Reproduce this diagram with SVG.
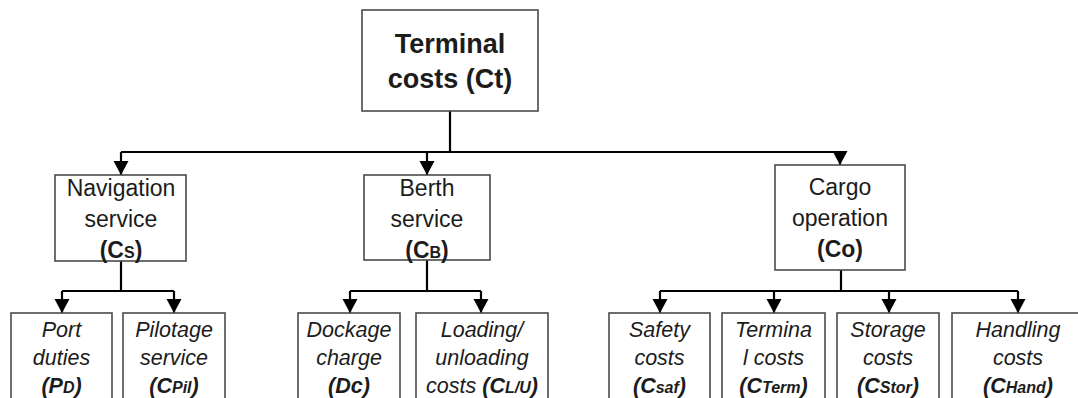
<svg xmlns="http://www.w3.org/2000/svg" width="1078" height="398" viewBox="0 0 1078 398">
  <defs>
    <marker id="arrow" markerUnits="userSpaceOnUse" markerWidth="15" markerHeight="16" refX="14" refY="7.5" orient="auto">
      <path d="M0,0 L14,7.5 L0,15 Z" fill="#000"/>
    </marker>
    <style>
      .box { fill: #fff; stroke: #4a4a4a; stroke-width: 1.6; }
      .wire { fill: none; stroke: #000; stroke-width: 2.2; }
      .drop { fill: none; stroke: #000; stroke-width: 2.2; marker-end: url(#arrow); }
      text { font-family: "Liberation Sans", Arial, sans-serif; fill: #1c1c1c; text-anchor: middle; }
      .top { font-size: 27px; font-weight: bold; }
      .mid { font-size: 23px; }
      .leaf { font-size: 21.5px; font-style: italic; }
      .b { font-weight: bold; }
      .sub { font-size: 16px; }
    </style>
  </defs>

  <rect width="1078" height="398" fill="#fff"/>

  <!-- connectors -->
  <g id="connectors">
    <path class="wire" d="M450 111 V152 M121 152 H840"/>
    <path class="drop" d="M121 152 V175"/>
    <path class="drop" d="M427 152 V175"/>
    <path class="drop" d="M840 152 V165"/>

    <path class="wire" d="M121 261 V291 M62 291 H174"/>
    <path class="drop" d="M62 291 V313"/>
    <path class="drop" d="M174 291 V313"/>

    <path class="wire" d="M427 260 V291 M350 291 H481"/>
    <path class="drop" d="M350 291 V313"/>
    <path class="drop" d="M481 291 V313"/>

    <path class="wire" d="M841 270 V291 M660 291 H1018"/>
    <path class="drop" d="M660 291 V313"/>
    <path class="drop" d="M774 291 V313"/>
    <path class="drop" d="M889 291 V313"/>
    <path class="drop" d="M1018 291 V313"/>
  </g>

  <!-- root -->
  <g id="terminal-costs">
    <rect class="box" x="362" y="10" width="176" height="101"/>
    <text class="top" x="450" y="53">Terminal</text>
    <text class="top" x="450" y="88">costs (Ct)</text>
  </g>

  <!-- second level -->
  <g id="navigation-service">
    <rect class="box" x="55" y="175" width="131" height="86"/>
    <text class="mid" x="121" y="196">Navigation</text>
    <text class="mid" x="121" y="227">service</text>
    <text class="mid b" x="121" y="258">(C<tspan class="sub">S</tspan>)</text>
  </g>

  <g id="berth-service">
    <rect class="box" x="364" y="175" width="126" height="85"/>
    <text class="mid" x="427" y="196">Berth</text>
    <text class="mid" x="427" y="227">service</text>
    <text class="mid b" x="427" y="258">(C<tspan class="sub">B</tspan>)</text>
  </g>

  <g id="cargo-operation">
    <rect class="box" x="775" y="165" width="130" height="105"/>
    <text class="mid" x="840" y="195">Cargo</text>
    <text class="mid" x="840" y="226">operation</text>
    <text class="mid b" x="840" y="257">(Co)</text>
  </g>

  <!-- third level -->
  <g id="port-duties">
    <rect class="box" x="11" y="313" width="101" height="100"/>
    <text class="leaf" x="61.5" y="337">Port</text>
    <text class="leaf" x="61.5" y="365">duties</text>
    <text class="leaf b" x="61.5" y="393">(P<tspan class="sub">D</tspan>)</text>
  </g>

  <g id="pilotage-service">
    <rect class="box" x="123" y="313" width="102" height="100"/>
    <text class="leaf" x="174" y="337">Pilotage</text>
    <text class="leaf" x="174" y="365">service</text>
    <text class="leaf b" x="174" y="393">(C<tspan class="sub">Pil</tspan>)</text>
  </g>

  <g id="dockage-charge">
    <rect class="box" x="298" y="313" width="102" height="100"/>
    <text class="leaf" x="349" y="337">Dockage</text>
    <text class="leaf" x="349" y="365">charge</text>
    <text class="leaf b" x="349" y="393">(Dc)</text>
  </g>

  <g id="loading-unloading-costs">
    <rect class="box" x="416" y="313" width="132" height="100"/>
    <text class="leaf" x="482" y="337">Loading/</text>
    <text class="leaf" x="482" y="365">unloading</text>
    <text class="leaf" x="482" y="393">costs <tspan class="b">(C<tspan class="sub">L/U</tspan>)</tspan></text>
  </g>

  <g id="safety-costs">
    <rect class="box" x="609" y="313" width="101" height="100"/>
    <text class="leaf" x="659.5" y="337">Safety</text>
    <text class="leaf" x="659.5" y="365">costs</text>
    <text class="leaf b" x="659.5" y="393">(C<tspan class="sub">saf</tspan>)</text>
  </g>

  <g id="terminal-costs-leaf">
    <rect class="box" x="722" y="313" width="103" height="100"/>
    <text class="leaf" x="773.5" y="337">Termina</text>
    <text class="leaf" x="773.5" y="365">l costs</text>
    <text class="leaf b" x="773.5" y="393">(C<tspan class="sub">Term</tspan>)</text>
  </g>

  <g id="storage-costs">
    <rect class="box" x="837" y="313" width="102" height="100"/>
    <text class="leaf" x="888" y="337">Storage</text>
    <text class="leaf" x="888" y="365">costs</text>
    <text class="leaf b" x="888" y="393">(C<tspan class="sub">Stor</tspan>)</text>
  </g>

  <g id="handling-costs">
    <rect class="box" x="952" y="313" width="132" height="100"/>
    <text class="leaf" x="1018" y="337">Handling</text>
    <text class="leaf" x="1018" y="365">costs</text>
    <text class="leaf b" x="1018" y="393">(C<tspan class="sub">Hand</tspan>)</text>
  </g>
</svg>
